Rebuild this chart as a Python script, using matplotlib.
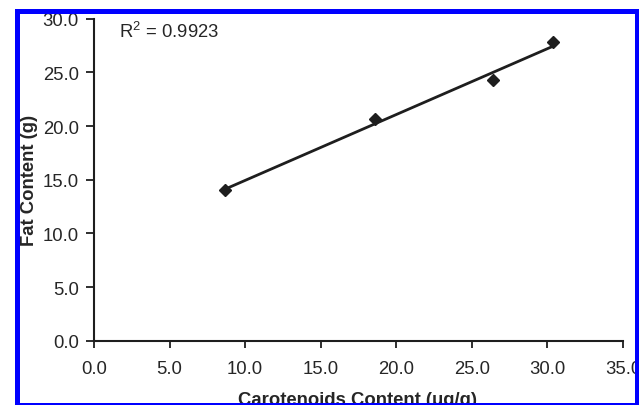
import numpy as np
import matplotlib
matplotlib.use("Agg")
import matplotlib.pyplot as plt
from matplotlib.patches import Rectangle

# Data
carotenoids = [8.7, 18.6, 26.4, 30.4]   # ug/g
fat = [14.0, 20.7, 24.3, 27.8]          # g
r2_label = "0.9923"
xticks = [0, 5, 10, 15, 20, 25, 30, 35]
yticks = [0, 5, 10, 15, 20, 25, 30]

plt.rcParams['font.family'] = ['Liberation Sans', 'DejaVu Sans']
plt.rcParams['mathtext.fontset'] = 'custom'
plt.rcParams['mathtext.rm'] = 'Liberation Sans'

W, H = 640, 406
fig = plt.figure(figsize=(W / 100, H / 100), dpi=100)
x0, x1 = 94, 623
y0, y1 = 341.7, 19.7
ax = fig.add_axes([x0 / W, (H - y0) / H, (x1 - x0) / W, (y0 - y1) / H])

ink = '#1e1e1e'
txt = '#262626'
fs = 13.3

# trend line (least squares through the data)
coef = np.polyfit(carotenoids, fat, 1)
xs = np.array([min(carotenoids), max(carotenoids)])
ax.plot(xs, np.polyval(coef, xs), color=ink, lw=2.0, zorder=2)
ax.plot(carotenoids, fat, linestyle='none', marker='D', ms=6, color=ink, zorder=3)

ax.set_xlim(0, 35)
ax.set_ylim(0, 30)
ax.set_xticks(xticks)
ax.set_yticks(yticks)
ax.set_xticklabels([f"{v:.1f}" for v in xticks], fontsize=fs, color=txt)
ax.set_yticklabels([f"{v:.1f}" for v in yticks], fontsize=fs, color=txt)
ax.tick_params(axis='x', direction='out', length=5, width=1.3, color=ink, pad=9)
ax.tick_params(axis='y', direction='out', length=6, width=1.3, color=ink, pad=5)
for s in ['top', 'right']:
    ax.spines[s].set_visible(False)
for s in ['left', 'bottom']:
    ax.spines[s].set_color(ink)
    ax.spines[s].set_linewidth(1.5)

ax.text((119 - x0) / (x1 - x0), (y0 - 38.3) / (y0 - y1),
        r"R$^{\mathregular{2}}$ = " + r2_label, fontsize=fs, color=txt,
        transform=ax.transAxes, ha='left', va='baseline')

fig.text(358 / W, 1 - 392 / H, "Carotenoids Content (\u03bcg/g)", fontsize=fs,
         fontweight='bold', ha='center', va='top', color=txt)
fig.text(21 / W, 1 - 180 / H, "Fat Content (g)", fontsize=fs, fontweight='bold',
         rotation=90, ha='left', va='center', color=txt)

def frect(xa, ya, xb, yb, color):
    # pixel coords (top-left origin) -> figure coords
    fig.add_artist(Rectangle((xa / W, 1 - yb / H), (xb - xa) / W, (yb - ya) / H,
                             transform=fig.transFigure, facecolor=color,
                             edgecolor='none', zorder=20))

# clip outside the blue frame
frect(0, 0, W, 10, 'white')
frect(0, 0, 15, H, 'white')
frect(639, 0, W, H, 'white')
frect(0, 405.5, W, H, 'white')
# blue frame
frect(15, 10, 639, 15, '#0000ff')
frect(15, 10, 20, 405.5, '#0000ff')
frect(635, 10, 639, 405.5, '#0000ff')
frect(15, 403.8, 639, 405.5, '#0000ff')

fig.savefig('out.png', dpi=100)
